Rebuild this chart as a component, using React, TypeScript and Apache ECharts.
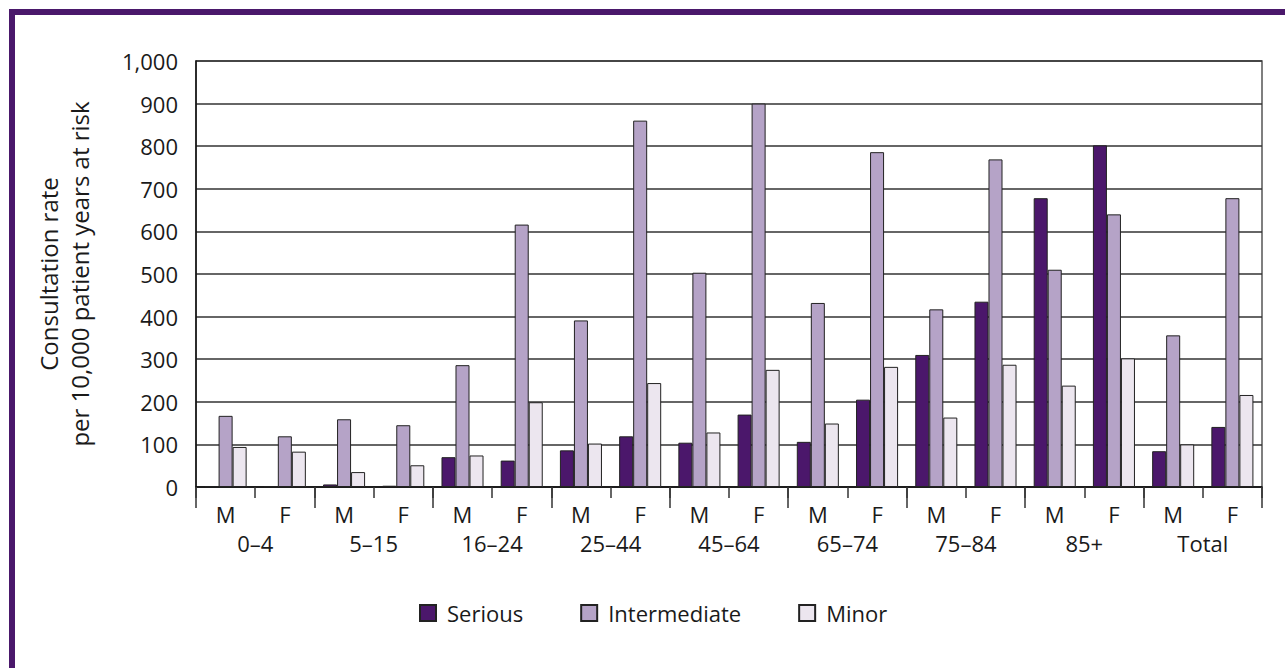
import React, { useEffect, useRef } from "react";
import * as echarts from "echarts";

const sexLabels = ["M", "F", "M", "F", "M", "F", "M", "F", "M", "F", "M", "F", "M", "F", "M", "F", "M", "F"];
const ageGroups = ["0–4", "5–15", "16–24", "25–44", "45–64", "65–74", "75–84", "85+", "Total"];
const serious = [1, 1, 6, 3, 70, 62, 86, 119, 104, 170, 106, 205, 310, 435, 678, 802, 84, 141];
const intermediate = [167, 119, 159, 145, 286, 616, 391, 860, 503, 900, 432, 786, 417, 769, 510, 640, 356, 678];
const minor = [94, 83, 35, 51, 74, 199, 102, 244, 128, 275, 149, 282, 163, 287, 238, 302, 100, 216];
const yTicks = { min: 0, max: 1000, interval: 100 };

const FONT = "Open Sans";
const TXT = "#1a1a1a";
const FS = 22;

export default function App() {
  const ref = useRef<HTMLDivElement>(null);
  useEffect(() => {
    if (!ref.current) return;
    const chart = echarts.init(ref.current, null, { renderer: "svg" });
    const barStyle = (color: string) => ({ color, borderColor: "#222", borderWidth: 1 });
    chart.setOption({
      animation: false,
      backgroundColor: "#ffffff",
      textStyle: { fontFamily: FONT, color: TXT },
      grid: { left: 196, right: 23, top: 61, bottom: 181, show: true, borderColor: "#555", borderWidth: 1.5, backgroundColor: "transparent" },
      legend: {
        top: 597,
        left: 414,
        itemWidth: 16,
        itemHeight: 16,
        itemGap: 57,
        icon: "rect",
        textStyle: { fontFamily: FONT, fontSize: FS, color: TXT, padding: [0, 0, 0, 6] },
        data: ["Serious", "Intermediate", "Minor"],
      },
      xAxis: [
        {
          type: "category",
          data: sexLabels,
          position: "bottom",
          boundaryGap: true,
          axisLine: { show: true, lineStyle: { color: "#111", width: 1.5 } },
          axisTick: { show: true, length: 11, interval: 0, lineStyle: { color: "#333", width: 1.5 } },
          axisLabel: { interval: 0, margin: 16, fontSize: FS, color: TXT, fontFamily: FONT },
          splitLine: { show: false },
        },
        {
          type: "category",
          data: ageGroups,
          position: "bottom",
          boundaryGap: true,
          axisLine: { show: false },
          axisTick: { show: true, length: 21, interval: 0, lineStyle: { color: "#333", width: 1.5 } },
          axisLabel: { interval: 0, margin: 45, fontSize: FS, color: TXT, fontFamily: FONT },
          splitLine: { show: false },
        },
      ],
      yAxis: {
        type: "value",
        min: yTicks.min,
        max: yTicks.max,
        interval: yTicks.interval,
        name: "Consultation rate\nper 10,000 patient years at risk",
        nameLocation: "middle",
        nameRotate: 90,
        nameGap: 101,
        nameTextStyle: { fontSize: 24, color: TXT, fontFamily: FONT, lineHeight: 31 },
        axisLine: { show: true, lineStyle: { color: "#111", width: 1.5 } },
        axisTick: { show: false },
        axisLabel: {
          margin: 18,
          fontSize: FS,
          color: TXT,
          fontFamily: FONT,
          formatter: (v: number) => v.toLocaleString("en-US"),
        },
        splitLine: { show: true, lineStyle: { color: "#333", width: 1.5 } },
      },
      series: [
        { name: "Serious", type: "bar", data: serious, barGap: "0%", barCategoryGap: "29%", itemStyle: barStyle("#4b176b") },
        { name: "Intermediate", type: "bar", data: intermediate, itemStyle: barStyle("#b5a3c7") },
        { name: "Minor", type: "bar", data: minor, itemStyle: barStyle("#ece6ef") },
      ],
      graphic: [
        { type: "rect", shape: { x: 9, y: 9, width: 1276, height: 6 }, style: { fill: "#4a186b" }, z: 100 },
        { type: "rect", shape: { x: 9, y: 9, width: 6, height: 659 }, style: { fill: "#4a186b" }, z: 100 },
      ],
    });
    return () => chart.dispose();
  }, []);
  return <div ref={ref} style={{ position: "absolute", left: 0, top: 0, width: 1285, height: 668 }} />;
}
